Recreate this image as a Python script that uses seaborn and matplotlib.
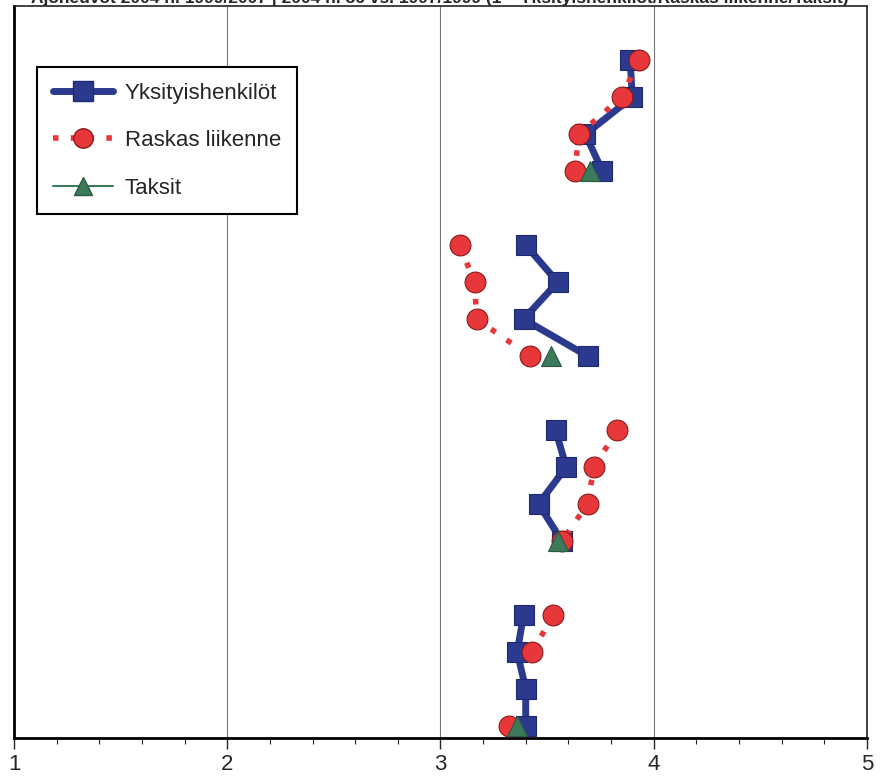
import numpy as np
import pandas as pd
import matplotlib
matplotlib.use('Agg')
import matplotlib.pyplot as plt
from matplotlib.lines import Line2D
from matplotlib.ticker import MultipleLocator
import seaborn as sns

# rows (four groups of four, one empty slot between groups)
rows = [0, 1, 2, 3, 5, 6, 7, 8, 10, 11, 12, 13, 15, 16, 17, 18]
groups = [0, 0, 0, 0, 1, 1, 1, 1, 2, 2, 2, 2, 3, 3, 3, 3]

yksityis = [3.89, 3.90, 3.68, 3.76,
            3.40, 3.55, 3.39, 3.69,
            3.54, 3.59, 3.46, 3.57,
            3.39, 3.36, 3.40, 3.40]
raskas = [3.93, 3.85, 3.65, 3.63,
          3.09, 3.16, 3.17, 3.42,
          3.83, 3.72, 3.69, 3.57,
          3.53, 3.43, np.nan, 3.32]
taksit_rows = [3, 8, 13, 18]
taksit = [3.70, 3.52, 3.55, 3.36]

labels = ['Yksityishenkilöt', 'Raskas liikenne', 'Taksit']
title = ('Ajoneuvot 2004 h. 1999/2007 | 2004 h. 36 vs. 1997/1999 '
         '(1="Yksityishenkilöt/Raskas liikenne/Taksit)')

blue = '#2b3a8f'
red = '#e8373b'
green = '#3b7a5a'


def make_df(xs, ys, gs):
    d = pd.DataFrame({'x': xs, 'y': ys, 'g': gs})
    # break a line where a value is missing
    d['seg'] = d['g'] * 10 + d.groupby('g')['x'].transform(lambda s: s.isna().cumsum())
    return d.dropna()


df_y = make_df(yksityis, rows, groups)
df_r = make_df(raskas, rows, groups)
df_t = pd.DataFrame({'x': taksit, 'y': taksit_rows, 'seg': range(len(taksit))})

sns.set_style('white')
plt.rcParams['font.family'] = ['Liberation Sans', 'DejaVu Sans']

fig = plt.figure(figsize=(8.8, 7.84), dpi=100)
ax = fig.add_axes([0.016, 0.059, 0.969, 0.933])

sns.lineplot(data=df_y, x='x', y='y', units='seg', estimator=None, sort=False,
             color=blue, linewidth=5, marker='s', markersize=15,
             markeredgecolor='#1f2a6e', markeredgewidth=0.8, ax=ax, zorder=3, legend=False)
sns.lineplot(data=df_r, x='x', y='y', units='seg', estimator=None, sort=False,
             color=red, linewidth=4, linestyle=(0, (1, 2.4)), marker='o', markersize=15,
             markeredgecolor='#8a1a1a', markeredgewidth=0.8, ax=ax, zorder=4, legend=False)
sns.lineplot(data=df_t, x='x', y='y', units='seg', estimator=None, sort=False,
             color=green, linewidth=1.5, marker='^', markersize=14,
             markeredgecolor='#2a5a40', markeredgewidth=0.8, ax=ax, zorder=5, legend=False)

ax.set_xlim(1, 5)
ax.set_ylim(18.32, -1.46)
ax.xaxis.set_major_locator(MultipleLocator(1))
ax.xaxis.set_minor_locator(MultipleLocator(0.2))
ax.set_yticks([])
ax.set_xlabel('')
ax.set_ylabel('')
ax.grid(axis='x', which='major', color='#777777', linewidth=0.8)
ax.tick_params(axis='x', which='major', length=8, width=1, direction='out',
               labelsize=16, pad=4, bottom=True)
ax.tick_params(axis='x', which='minor', length=4, width=0.8, direction='out', bottom=True)
for side in ['left', 'bottom']:
    ax.spines[side].set_linewidth(2)
    ax.spines[side].set_color('black')
for side in ['top', 'right']:
    ax.spines[side].set_linewidth(1.2)
    ax.spines[side].set_color('#222222')

handles = [
    Line2D([], [], color=blue, linewidth=5, marker='s', markersize=14, markeredgecolor='#1f2a6e'),
    Line2D([], [], color=red, linewidth=4, linestyle=(0, (1, 2.2)), marker='o', markersize=14,
           markeredgecolor='#8a1a1a'),
    Line2D([], [], color=green, linewidth=1.5, marker='^', markersize=13, markeredgecolor='#2a5a40'),
]
leg = ax.legend(handles, labels, loc='upper left', bbox_to_anchor=(0.027, 0.917),
                borderaxespad=0, fontsize=16, frameon=True, fancybox=False, framealpha=1,
                edgecolor='black', borderpad=0.7, labelspacing=1.2,
                handlelength=2.7, handletextpad=0.55)
leg.get_frame().set_linewidth(1.5)

fig.text(0.5, 1.002, title, ha='center', va='center', fontsize=12.5, fontweight='bold')

fig.savefig('out.png', dpi=100)
